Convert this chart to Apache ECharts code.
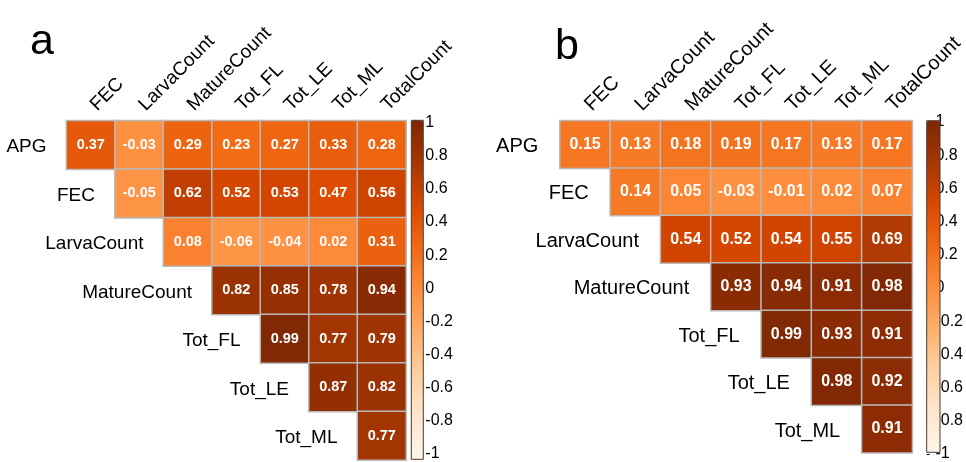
<!DOCTYPE html>
<html><head><meta charset="utf-8">
<script src="https://cdn.jsdelivr.net/npm/echarts@6/dist/echarts.min.js"></script>
<style>html,body{margin:0;padding:0;background:#fff}#c{width:966px;height:462px}</style>
</head><body><div id="c"></div>
<script>
// ---- data ----
const colNames = ['FEC','LarvaCount','MatureCount','Tot_FL','Tot_LE','Tot_ML','TotalCount'];
const rowNames = ['APG','FEC','LarvaCount','MatureCount','Tot_FL','Tot_LE','Tot_ML'];
// upper-triangle rows: row i starts at column i
const corrA_APG = [0.37,-0.03,0.29,0.23,0.27,0.33,0.28];
const corrA_FEC = [-0.05,0.62,0.52,0.53,0.47,0.56];
const corrA_Larva = [0.08,-0.06,-0.04,0.02,0.31];
const corrA_Mature = [0.82,0.85,0.78,0.94];
const corrA_FL = [0.99,0.77,0.79];
const corrA_LE = [0.87,0.82];
const corrA_ML = [0.77];
const corrB_APG = [0.15,0.13,0.18,0.19,0.17,0.13,0.17];
const corrB_FEC = [0.14,0.05,-0.03,-0.01,0.02,0.07];
const corrB_Larva = [0.54,0.52,0.54,0.55,0.69];
const corrB_Mature = [0.93,0.94,0.91,0.98];
const corrB_FL = [0.99,0.93,0.91];
const corrB_LE = [0.98,0.92];
const corrB_ML = [0.91];
const panelLabels = ['a','b'];
const scaleMin = -1, scaleMax = 1, scaleStep = 0.2;
const oranges = ['#fff5eb','#fee6ce','#fdd0a2','#fdae6b','#fd8d3c','#f16913','#d94801','#a63603','#7f2704'];

const rowsA = [corrA_APG,corrA_FEC,corrA_Larva,corrA_Mature,corrA_FL,corrA_LE,corrA_ML];
const rowsB = [corrB_APG,corrB_FEC,corrB_Larva,corrB_Mature,corrB_FL,corrB_LE,corrB_ML];
function toCells(rows){
  const out=[];
  rows.forEach((r,i)=>r.forEach((v,k)=>out.push([i+k,i,v])));
  return out;
}
function diagLabels(){ return rowNames.map((n,i)=>({value:[i,i],name:n})); }

const FF = '"Liberation Sans", Arial, sans-serif';
const panels = [
  {grid:{left:66.5,top:120.7,width:339.5,height:339.3},
   bar:{left:411.3,top:120.3,width:12,height:339},
   scale:{left:411.3,top:122.6,width:12,height:340.8},
   font:19, cellFont:14.5, gap:20, cell:48.5, data:rowsA, letter:{x:30,y:57}},
  {grid:{left:560,top:120.7,width:361.2,height:332},
   bar:{left:926.7,top:120.7,width:13.3,height:331.6},
   scale:{left:926.7,top:122,width:13.3,height:335},
   font:20, cellFont:16, gap:21, cell:51.6, data:rowsB, letter:{x:555,y:62}}
];

const grid=[], xAxis=[], yAxis=[], series=[], visualMap=[], graphic=[];
panels.forEach((p,pi)=>{
  const g = grid.length;
  grid.push(Object.assign({containLabel:false},p.grid));
  xAxis.push({type:'category',gridIndex:g,data:colNames,position:'top',
    axisLine:{show:false},axisTick:{show:false},splitLine:{show:false},
    axisLabel:{rotate:-45,interval:0,margin:10,padding:[0,0,0,4],color:'#000',fontSize:p.font,fontFamily:FF}});
  yAxis.push({type:'category',gridIndex:g,data:rowNames,inverse:true,
    axisLine:{show:false},axisTick:{show:false},axisLabel:{show:false},splitLine:{show:false}});
  series.push({type:'heatmap',xAxisIndex:g,yAxisIndex:g,data:toCells(p.data),
    itemStyle:{borderColor:'#b9b9b9',borderWidth:1.5},
    label:{show:true,color:'#fff',fontWeight:'bold',fontSize:p.cellFont,fontFamily:FF,
      formatter:(d)=>d.value[2].toFixed(2)},
    emphasis:{disabled:true}});
  series.push({type:'scatter',xAxisIndex:g,yAxisIndex:g,data:diagLabels(),symbolSize:0,
    itemStyle:{color:'#000',opacity:1},silent:true,z:5,emphasis:{disabled:true},
    label:{show:true,position:'left',distance:p.cell/2+p.gap,offset:[0,2],formatter:'{b}',
      color:'#000',opacity:1,textBorderWidth:0,fontSize:p.font,fontFamily:FF}});
  visualMap.push({type:'continuous',min:scaleMin,max:scaleMax,seriesIndex:pi*2,
    inRange:{color:oranges},calculable:false,padding:0,
    left:p.bar.left,top:p.bar.top,itemWidth:p.bar.width,itemHeight:p.bar.height,
    hoverLink:false});
  // bar frame
  const gf = grid.length;
  grid.push(Object.assign({show:true,borderColor:'#4a3a30',borderWidth:1,backgroundColor:'transparent',z:10},p.bar));
  xAxis.push({type:'value',gridIndex:gf,show:false});
  yAxis.push({type:'value',gridIndex:gf,show:false});
  // scale axis
  const gb = grid.length;
  grid.push(Object.assign({show:false},p.scale));
  xAxis.push({type:'value',gridIndex:gb,show:false});
  yAxis.push({type:'value',gridIndex:gb,position:'right',min:scaleMin,max:scaleMax,interval:scaleStep,
    axisLine:{show:false},splitLine:{show:false},
    axisTick:{show:true,length:3,lineStyle:{color:'#000',width:1}},
    axisLabel:{margin:2,color:'#000',fontSize:16,fontFamily:FF,showMinLabel:true,showMaxLabel:true}});
  graphic.push({type:'text',left:p.letter.x,top:p.letter.y-36,style:{text:panelLabels[pi],fontSize:43,fontFamily:FF,fill:'#000'}});
});

const chart = echarts.init(document.getElementById('c'));
chart.setOption({animation:false,backgroundColor:'#fff',grid,xAxis,yAxis,series,visualMap,graphic});
</script></body></html>
